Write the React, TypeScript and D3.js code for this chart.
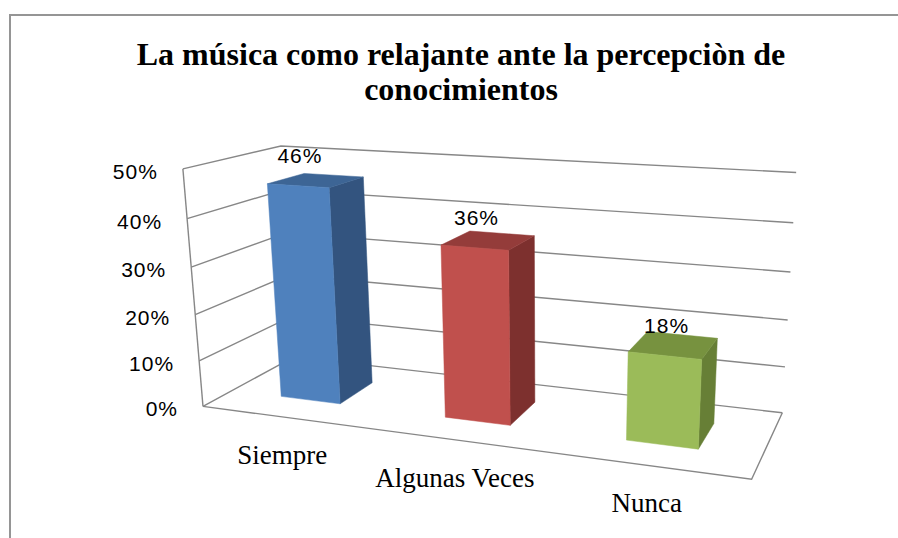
import { useEffect, useRef } from 'react';
import * as d3 from 'd3';

const title = ['La música como relajante ante la percepciòn de', 'conocimientos'];
const categories = ['Siempre', 'Algunas Veces', 'Nunca'];
const values = [0.46, 0.36, 0.18];
const yTicks = [0, 0.1, 0.2, 0.3, 0.4, 0.5];

const barColors = [
  { front: '#4f81bd', side: '#33547f', top: '#3d6595' },
  { front: '#c0504d', side: '#7d302e', top: '#943c3a' },
  { front: '#9bbb59', side: '#677f36', top: '#77923f' },
];

// Where the corners of the 3D plot box land on screen: [x, y, z, screenX, screenY]
// x: 0 left .. 1 right, y: 0 floor .. 1 top of axis, z: 0 front .. 1 back
const boxAnchors: [number, number, number, number, number][] = [
  [0, 1, 0, 185, 169],
  [0, 0.8, 0, 189, 219],
  [0, 0.2, 0, 198, 360],
  [0, 0, 0, 200, 407],
  [0, 1, 1, 279, 145],
  [0, 0.8, 1, 281, 191],
  [0, 0.2, 1, 294, 316],
  [0, 0, 1, 296, 357],
  [1, 1, 1, 797, 173],
  [1, 0.8, 1, 793, 222],
  [1, 0.6, 1, 790.5, 272],
  [1, 0.4, 1, 787.5, 320],
  [1, 0.2, 1, 785, 367],
  [1, 0, 1, 781.5, 413],
  [1, 0, 0, 752, 479],
];

// least squares fit of a 3x4 projection matrix (DLT, last entry fixed to 1)
function fitCamera(pts: [number, number, number, number, number][]) {
  const n = 11;
  const N = Array.from({ length: n }, () => new Array(n).fill(0));
  const r = new Array(n).fill(0);
  const addRow = (row: number[], b: number) => {
    for (let i = 0; i < n; i++) {
      r[i] += row[i] * b;
      for (let j = 0; j < n; j++) N[i][j] += row[i] * row[j];
    }
  };
  for (const [X, Y, Z, u, v] of pts) {
    addRow([X, Y, Z, 1, 0, 0, 0, 0, -u * X, -u * Y, -u * Z], u);
    addRow([0, 0, 0, 0, X, Y, Z, 1, -v * X, -v * Y, -v * Z], v);
  }
  for (let c = 0; c < n; c++) {
    let p = c;
    for (let k = c + 1; k < n; k++) if (Math.abs(N[k][c]) > Math.abs(N[p][c])) p = k;
    [N[c], N[p]] = [N[p], N[c]];
    [r[c], r[p]] = [r[p], r[c]];
    for (let k = 0; k < n; k++) {
      if (k === c) continue;
      const f = N[k][c] / N[c][c];
      for (let j = c; j < n; j++) N[k][j] -= f * N[c][j];
      r[k] -= f * r[c];
    }
  }
  const m = r.map((v, i) => v / N[i][i]);
  return (X: number, Y: number, Z: number): [number, number] => {
    const w = m[8] * X + m[9] * Y + m[10] * Z + 1;
    return [
      (m[0] * X + m[1] * Y + m[2] * Z + m[3]) / w,
      (m[4] * X + m[5] * Y + m[6] * Z + m[7]) / w,
    ];
  };
}

export default function App() {
  const svgRef = useRef<SVGSVGElement>(null);

  useEffect(() => {
    if (!svgRef.current) return;
    const svg = d3.select(svgRef.current);
    svg.selectAll('*').remove();

    const project = fitCamera(boxAnchors);

    const x = d3
      .scaleBand<string>()
      .domain(categories)
      .range([0, 1])
      .paddingInner(0.63)
      .paddingOuter(0.315);
    const y = d3.scaleLinear().domain([0, 0.5]).range([0, 1]);
    const zFront = 0.3;
    const zBack = 0.7;

    const line = (pts: [number, number, number][]) =>
      d3.line()(pts.map(([a, b, c]) => project(a, b, c)));

    // outer border
    svg
      .append('rect')
      .attr('x', 10)
      .attr('y', 15)
      .attr('width', 1000)
      .attr('height', 1000)
      .attr('fill', 'none')
      .attr('stroke', '#959595')
      .attr('stroke-width', 2);

    // title
    svg
      .append('text')
      .attr('x', 461)
      .attr('y', 65)
      .attr('text-anchor', 'middle')
      .attr('font-family', '"Liberation Serif", "Times New Roman", serif')
      .attr('font-weight', 'bold')
      .attr('font-size', '32px')
      .selectAll('tspan')
      .data(title)
      .enter()
      .append('tspan')
      .attr('x', 461)
      .attr('dy', (_, i) => (i === 0 ? 0 : 35))
      .text((d) => d);

    const frame = svg.append('g').attr('fill', 'none').attr('stroke', '#878787').attr('stroke-width', 1.4);

    // gridlines on side wall and back wall
    yTicks.forEach((t) => {
      frame.append('path').attr('d', line([[0, y(t), 0], [0, y(t), 1], [1, y(t), 1]]));
    });
    // vertical front edge, floor outline
    frame.append('path').attr('d', line([[0, 0, 0], [0, 1, 0]]));
    frame.append('path').attr('d', line([[0, 0, 0], [1, 0, 0], [1, 0, 1]]));

    const pct = d3.format('.0%');

    // tick labels
    svg
      .append('g')
      .selectAll('text')
      .data(yTicks)
      .enter()
      .append('text')
      .attr('x', (d) => project(0, y(d), 0)[0] - 25)
      .attr('y', (d) => project(0, y(d), 0)[1] + 10)
      .attr('text-anchor', 'end')
      .attr('font-family', '"Liberation Sans", Arial, sans-serif')
      .attr('font-size', '21px')
      .attr('letter-spacing', '1px')
      .attr('fill', '#000')
      .text((d) => pct(d));

    // bars
    const bars = svg.append('g');
    categories.forEach((c, i) => {
      const x0 = x(c) || 0;
      const x1 = x0 + x.bandwidth();
      const h = y(values[i]);
      const col = barColors[i];
      const face = (pts: [number, number, number][], fill: string) =>
        bars.append('path').attr('d', line(pts) + 'Z').attr('fill', fill).attr('stroke', fill).attr('stroke-width', 0.5);
      face([[x1, 0, zFront], [x1, 0, zBack], [x1, h, zBack], [x1, h, zFront]], col.side);
      face([[x0, h, zFront], [x1, h, zFront], [x1, h, zBack], [x0, h, zBack]], col.top);
      face([[x0, 0, zFront], [x1, 0, zFront], [x1, h, zFront], [x0, h, zFront]], col.front);
    });

    // value labels
    svg
      .append('g')
      .selectAll('text')
      .data(categories)
      .enter()
      .append('text')
      .attr('x', (d, i) => project((x(d) || 0) + x.bandwidth() / 2, y(values[i]), zFront)[0] + 2)
      .attr('y', (d, i) => project((x(d) || 0) + x.bandwidth() / 2, y(values[i]), zFront)[1] - 23)
      .attr('text-anchor', 'middle')
      .attr('font-family', '"Liberation Sans", Arial, sans-serif')
      .attr('font-size', '21px')
      .attr('letter-spacing', '1px')
      .attr('fill', '#000')
      .text((_, i) => pct(values[i]));

    // category labels
    svg
      .append('g')
      .selectAll('text')
      .data(categories)
      .enter()
      .append('text')
      .attr('x', (d) => project((x(d) || 0) + x.bandwidth() / 2, 0, 0)[0] - 1)
      .attr('y', (d) => project((x(d) || 0) + x.bandwidth() / 2, 0, 0)[1] + 47)
      .attr('text-anchor', 'middle')
      .attr('font-family', '"Liberation Serif", "Times New Roman", serif')
      .attr('font-size', '27px')
      .attr('fill', '#000')
      .text((d) => d);
  }, []);

  return (
    <div style={{ position: 'absolute', left: 0, top: 0 }}>
      <svg ref={svgRef} width={898} height={538} style={{ display: 'block', background: '#fff' }} />
    </div>
  );
}
